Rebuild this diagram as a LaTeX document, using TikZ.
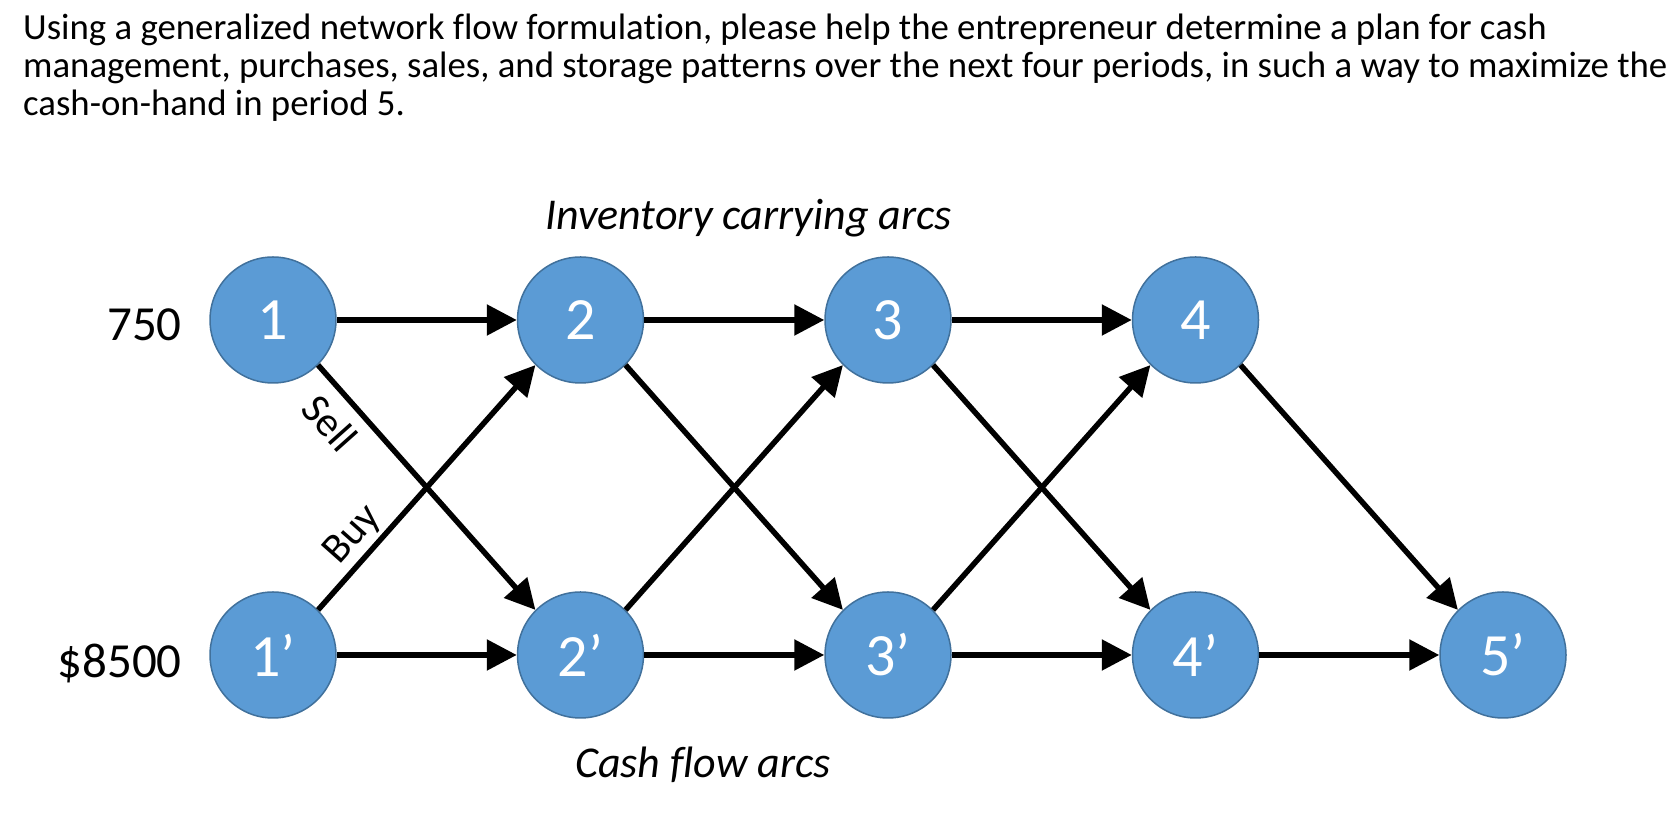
\documentclass[tikz,border=0pt]{standalone}
\usepackage{fontspec}
\setmainfont[Ligatures={NoCommon}]{Carlito}
\usetikzlibrary{arrows.meta}
\definecolor{nodefill}{HTML}{5B9BD5}
\definecolor{nodeline}{HTML}{41719C}
\tikzset{
  period/.style={circle, fill=nodefill, draw=nodeline, line width=1.5pt, minimum size=126pt, inner sep=0pt, text=white, font=\fontsize{60}{60}\selectfont},
  flow/.style={line width=5.5pt, -{Triangle[length=30pt,width=30pt]}},
  headline/.style={anchor=base west, inner sep=0pt, font=\fontsize{36.8}{37}\selectfont},
  supply/.style={anchor=base east, inner sep=0pt, font=\fontsize{49}{49}\selectfont},
  arclabel/.style={anchor=base west, inner sep=0pt, font=\fontsize{44}{44}\selectfont\itshape},
  flowlabel/.style={inner sep=0pt, font=\fontsize{42}{42}\selectfont}
}
\begin{document}
\begin{tikzpicture}[x=1pt,y=1pt]
\useasboundingbox (0,0) rectangle (1666,834);
\node[headline] (t1) at (23,794) {Using a generalized network flow formulation, please help the entrepreneur determine a plan for cash};
\node[headline] (t2) at (23,756) {management, purchases, sales, and storage patterns over the next four periods, in such a way to maximize the};
\node[headline] (t3) at (23,718) {cash-on-hand in period 5.};

\node[period] (n1) at (273,514) {1};
\node[period] (n2) at (580.5,514) {2};
\node[period] (n3) at (888,514) {3};
\node[period] (n4) at (1195.5,514) {4};
\node[period] (m1) at (273,179) {1’};
\node[period] (m2) at (580.5,179) {2’};
\node[period] (m3) at (888,179) {3’};
\node[period] (m4) at (1195.5,179) {4’};
\node[period] (m5) at (1503,179) {5’};

\node[supply] (s750) at (182,493) {750};
\node[supply] (s8500) at (182,156) {\$8500};
\node[arclabel] (inv) at (545,604) {Inventory carrying arcs};
\node[arclabel] (cash) at (575,56) {Cash flow arcs};

\draw[flow] (n1.east) -- (n2.west);
\draw[flow] (n2.east) -- (n3.west);
\draw[flow] (n3.east) -- (n4.west);
\draw[flow] (m1.east) -- (m2.west);
\draw[flow] (m2.east) -- (m3.west);
\draw[flow] (m3.east) -- (m4.west);
\draw[flow] (m4.east) -- (m5.west);

\draw[flow] (n1.south east) -- (m2.north west);
\draw[flow] (n2.south east) -- (m3.north west);
\draw[flow] (n3.south east) -- (m4.north west);
\draw[flow] (n4.south east) -- (m5.north west);
\draw[flow] (m1.north east) -- (n2.south west);
\draw[flow] (m2.north east) -- (n3.south west);
\draw[flow] (m3.north east) -- (n4.south west);

\node[flowlabel, rotate=-48.3] (sell) at (330,411) {Sell};
\node[flowlabel, rotate=48.4] (buy) at (353,299) {Buy};
\end{tikzpicture}
\end{document}
